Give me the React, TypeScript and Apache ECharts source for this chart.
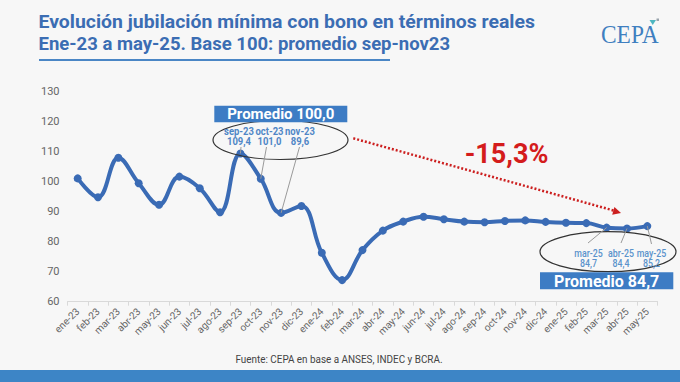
import React, { useEffect, useRef } from "react";
import * as echarts from "echarts";

const categories = [
  "ene-23", "feb-23", "mar-23", "abr-23", "may-23", "jun-23", "jul-23", "ago-23",
  "sep-23", "oct-23", "nov-23", "dic-23", "ene-24", "feb-24", "mar-24", "abr-24",
  "may-24", "jun-24", "jul-24", "ago-24", "sep-24", "oct-24", "nov-24", "dic-24",
  "ene-25", "feb-25", "mar-25", "abr-25", "may-25",
];
const values = [
  101.1, 94.8, 108.0, 99.5, 92.3, 101.7, 97.8, 89.8,
  109.4, 101.0, 89.6, 91.9, 76.3, 67.2, 77.2, 83.7,
  86.7, 88.3, 87.5, 86.7, 86.5, 86.9, 87.1, 86.6,
  86.3, 86.2, 84.7, 84.4, 85.2,
];
const yTicks = { min: 60, max: 130, interval: 10 };
const titleLines = [
  "Evolución jubilación mínima con bono en términos reales",
  "Ene-23 a may-25. Base 100: promedio sep-nov23",
];
const leftCallouts = [
  { cat: "sep-23", label: "sep-23\n109,4" },
  { cat: "oct-23", label: "oct-23\n101,0" },
  { cat: "nov-23", label: "nov-23\n89,6" },
];
const rightCallouts = [
  { cat: "mar-25", label: "mar-25\n84,7" },
  { cat: "abr-25", label: "abr-25\n84,4" },
  { cat: "may-25", label: "may-25\n85,2" },
];
const avgLeft = "Promedio 100,0";
const avgRight = "Promedio 84,7";
const changeLabel = "-15,3%";
const sourceText = "Fuente: CEPA en base a ANSES, INDEC y BCRA.";

const BLUE = "#3a6bb5";
const FONT = "Roboto, 'Noto Sans', sans-serif";

export default function App() {
  const ref = useRef<HTMLDivElement>(null);
  useEffect(() => {
    if (!ref.current) return;
    const chart = echarts.init(ref.current, undefined, { renderer: "svg" });
    const option: any = {
      animation: false,
      backgroundColor: "#f7f7f7",
      textStyle: { fontFamily: FONT },
      grid: { left: 67.5, right: 22.5, top: 91.7, bottom: 80.3, containLabel: false },
      xAxis: {
        type: "category",
        data: categories,
        boundaryGap: true,
        axisLine: { lineStyle: { color: "#d9d9d9", width: 1 } },
        axisTick: { show: true, length: 4, lineStyle: { color: "#d9d9d9" } },
        axisLabel: { rotate: 45, fontSize: 10, color: "#666", margin: 8, interval: 0, fontFamily: FONT },
        splitLine: { show: false },
      },
      yAxis: {
        type: "value",
        min: yTicks.min,
        max: yTicks.max,
        interval: yTicks.interval,
        axisLine: { show: false },
        axisTick: { show: false },
        splitLine: { show: false },
        axisLabel: { fontSize: 11, color: "#666", margin: 8, fontFamily: FONT },
      },
      series: [
        {
          type: "line",
          data: values,
          smooth: 0.4,
          symbol: "circle",
          symbolSize: 8,
          lineStyle: { color: BLUE, width: 4 },
          itemStyle: { color: BLUE },
          z: 3,
        },
      ],
    };
    chart.setOption(option);

    const px = (cat: string) => {
      const i = categories.indexOf(cat);
      return chart.convertToPixel({ gridIndex: 0 }, [i, values[i]]) as number[];
    };

    const leftLabelX = [239, 269.5, 300];
    const rightLabelX = [588.5, 621, 651.5];
    const leftLineStart = [[241, 147], [266.5, 147], [299.5, 147]];
    const rightLineStart = [[588, 243], [621, 243], [651.5, 244]];
    const titleScale = [1.05, 1.0];

    const graphics: any[] = [];
    // title
    titleLines.forEach((t, k) => {
      graphics.push({
        type: "text",
        x: 38.5,
        y: 22 + k * 21.5,
        scaleX: titleScale[k],
        style: {
          text: t,
          fill: "#3b6db3",
          font: `bold 18.5px ${FONT}`,
          textVerticalAlign: "middle",
          textAlign: "left",
        },
      });
    });
    graphics.push({ type: "rect", shape: { x: 39, y: 59, width: 351, height: 2 }, style: { fill: "#4a86c5" } });
    // logo
    graphics.push({
      type: "text",
      x: 601,
      y: 34,
      scaleX: 0.9,
      style: {
        text: "CEPA",
        fill: "#3f7fc0",
        font: `26px 'Liberation Serif', 'DejaVu Serif', serif`,
        textVerticalAlign: "middle",
        textAlign: "left",
      },
    });
    graphics.push({ type: "polygon", shape: { points: [[649.5, 20], [656, 20], [652.7, 25]] }, style: { fill: "#4db6c0" } });
    graphics.push({ type: "rect", shape: { x: 656.5, y: 18.5, width: 2.5, height: 2.5 }, style: { fill: "#9aa4ad" } });
    // footer
    graphics.push({
      type: "text",
      x: 339,
      y: 359,
      scaleX: 0.9,
      style: {
        text: sourceText,
        fill: "#444",
        font: `11px ${FONT}`,
        textAlign: "center",
        textVerticalAlign: "middle",
      },
    });
    graphics.push({ type: "rect", shape: { x: 0, y: 370, width: 680, height: 12 }, style: { fill: "#3d85c6" } });

    // leader lines left
    leftCallouts.forEach((c, k) => {
      const p = px(c.cat);
      graphics.push({
        type: "line",
        shape: { x1: leftLineStart[k][0], y1: leftLineStart[k][1], x2: p[0], y2: p[1] },
        style: { stroke: "#9a9a9a", lineWidth: 1 },
        z: 10,
      });
      graphics.push({
        type: "text",
        x: leftLabelX[k],
        y: 136.5,
        scaleX: 0.9,
        style: {
          text: c.label,
          fill: "#4f86c6",
          font: `bold 10.5px ${FONT}`,
          lineHeight: 9.5,
          textAlign: "center",
          textVerticalAlign: "middle",
        },
        z: 10,
      });
    });
    rightCallouts.forEach((c, k) => {
      const p = px(c.cat);
      graphics.push({
        type: "line",
        shape: { x1: rightLineStart[k][0], y1: rightLineStart[k][1], x2: p[0], y2: p[1] },
        style: { stroke: "#9a9a9a", lineWidth: 1 },
        z: 10,
      });
      graphics.push({
        type: "text",
        x: rightLabelX[k],
        y: 258.5,
        scaleX: 0.88,
        style: {
          text: c.label,
          fill: "#5a93cc",
          font: `500 10px ${FONT}`,
          lineHeight: 10,
          textAlign: "center",
          textVerticalAlign: "middle",
        },
        z: 10,
      });
    });
    // ellipses
    graphics.push({ type: "ellipse", shape: { cx: 280.5, cy: 140, rx: 67.5, ry: 19.5 }, style: { fill: "none", stroke: "#333", lineWidth: 1.2 }, z: 9 });
    graphics.push({ type: "ellipse", shape: { cx: 608, cy: 251.7, rx: 68, ry: 20 }, style: { fill: "none", stroke: "#333", lineWidth: 1.2 }, z: 9 });
    // average boxes
    graphics.push({ type: "rect", shape: { x: 214.3, y: 105.7, width: 133, height: 16.6 }, style: { fill: "#3d7cc4" }, z: 11 });
    graphics.push({
      type: "text", x: 280.8, y: 114.2, z: 12,
      style: { text: avgLeft, fill: "#fff", font: `bold 15px ${FONT}`, textAlign: "center", textVerticalAlign: "middle" },
    });
    graphics.push({ type: "rect", shape: { x: 540, y: 272.3, width: 133.3, height: 17 }, style: { fill: "#3d7cc4" }, z: 11 });
    graphics.push({
      type: "text", x: 606.7, y: 281, z: 12,
      style: { text: avgRight, fill: "#fff", font: `bold 16px ${FONT}`, textAlign: "center", textVerticalAlign: "middle" },
    });
    // red arrow
    graphics.push({
      type: "line",
      shape: { x1: 353.3, y1: 138.3, x2: 614, y2: 210.6 },
      style: { stroke: "#cc1f1f", lineWidth: 2.5, lineDash: [2, 2] },
      z: 8,
    });
    graphics.push({
      type: "polygon",
      shape: { points: [[621, 213], [612.2, 214.8], [614.4, 207.0]] },
      style: { fill: "#cc1f1f" },
      z: 8,
    });
    graphics.push({
      type: "text", x: 506.5, y: 153.5, z: 8,
      style: { text: changeLabel, fill: "#d41c1c", font: `bold 27px ${FONT}`, textAlign: "center", textVerticalAlign: "middle" },
    });

    chart.setOption({ graphic: { elements: graphics } });
    return () => chart.dispose();
  }, []);
  return <div ref={ref} style={{ width: 680, height: 382, position: "fixed", left: 0, top: 0 }} />;
}
